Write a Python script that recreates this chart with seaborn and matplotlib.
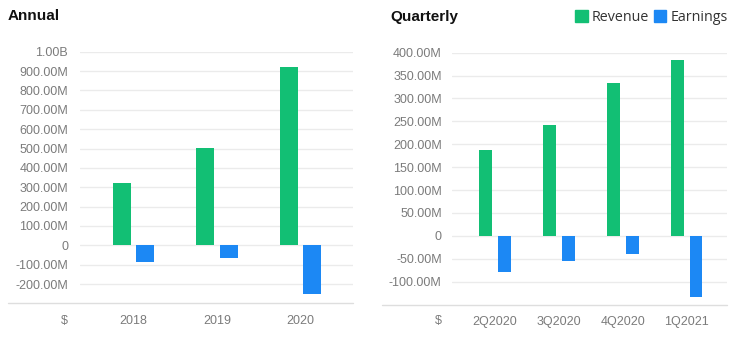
import matplotlib
matplotlib.use("Agg")
import matplotlib.pyplot as plt
import seaborn as sns
import pandas as pd
from matplotlib.lines import Line2D
from matplotlib.ticker import FuncFormatter, FixedLocator

# ---- data (values in millions of $) ----
annual_periods = ["2018", "2019", "2020"]
annual_revenue = [322, 505, 921]
annual_earnings = [-85, -67, -251]

quarter_periods = ["2Q2020", "3Q2020", "4Q2020", "1Q2021"]
quarter_revenue = [188, 241, 334, 385]
quarter_earnings = [-78, -56, -40, -134]

annual_ticks = [-200, -100, 0, 100, 200, 300, 400, 500, 600, 700, 800, 900, 1000]
quarter_ticks = [-100, -50, 0, 50, 100, 150, 200, 250, 300, 350, 400]

series_names = ["Revenue", "Earnings"]
colors = {"Revenue": "#12bf74", "Earnings": "#1c88f4"}

def long_df(periods, rev, earn):
    return pd.DataFrame({
        "period": periods * 2,
        "series": ["Revenue"] * len(periods) + ["Earnings"] * len(periods),
        "value": list(rev) + list(earn),
    })

df_a = long_df(annual_periods, annual_revenue, annual_earnings)
df_q = long_df(quarter_periods, quarter_revenue, quarter_earnings)

sns.set_theme(style="white")
plt.rcParams["font.family"] = ["Liberation Sans", "DejaVu Sans"]

W, H = 750, 343
fig = plt.figure(figsize=(W / 100, H / 100), dpi=100)

def fig_rect(x0, x1, ytop, ybot):
    return [x0 / W, 1 - ybot / H, (x1 - x0) / W, (ybot - ytop) / H]

ax1 = fig.add_axes(fig_rect(80, 353, 51.7, 303.4))
ax2 = fig.add_axes(fig_rect(451.7, 727, 52.7, 304.5))

def fmt(v, pos):
    if abs(v) < 1e-9:
        return "0"
    if abs(v) >= 1000:
        return f"{v/1000:.2f}B"
    return f"{v:.2f}M"

tick_color = "#7b7b7b"
grid_color = "#ebebeb"

def style(ax, df, width, gap, xlim, ylim, ticks, ypad):
    sns.barplot(data=df, x="period", y="value", hue="series",
                hue_order=series_names, palette=colors, ax=ax,
                width=width, gap=gap, saturation=1, errorbar=None,
                linewidth=0)
    ax.set_xlim(*xlim)
    ax.set_ylim(*ylim)
    ax.yaxis.set_major_locator(FixedLocator(ticks))
    ax.yaxis.set_major_formatter(FuncFormatter(fmt))
    ax.set_xlabel("")
    ax.set_ylabel("")
    for s in ax.spines.values():
        s.set_visible(False)
    ax.grid(axis="y", color=grid_color, linewidth=1)
    ax.grid(axis="x", visible=False)
    ax.set_axisbelow(True)
    ax.tick_params(axis="both", length=0, labelsize=9, labelcolor=tick_color)
    ax.tick_params(axis="y", pad=ypad)
    ax.tick_params(axis="x", pad=8)
    leg = ax.get_legend()
    if leg is not None:
        leg.remove()

style(ax1, df_a, 0.56, 0.23, (-0.64, 2.63), (-300, 1000), annual_ticks, 8.5)
style(ax2, df_q, 0.59, 0.34, (-0.68, 3.63), (-150, 400), quarter_ticks, 7.2)

# bottom baseline lines
for x0, x1, y in [(8, 353, 303.4), (381.7, 727, 304.5)]:
    fig.add_artist(Line2D([x0 / W, x1 / W], [1 - y / H, 1 - y / H],
                          color="#dedede", linewidth=1))

# currency markers
fig.text(68 / W, 1 - 321 / H, "$", ha="right", va="center",
         fontsize=9, color=tick_color)
fig.text(441.5 / W, 1 - 321 / H, "$", ha="right", va="center",
         fontsize=9, color=tick_color)

# titles
fig.text(8 / W, 1 - 16.5 / H, "Annual", ha="left", va="center",
         fontsize=11, fontweight="bold", color="#111111")
fig.text(390 / W, 1 - 16.5 / H, "Quarterly", ha="left", va="center",
         fontsize=11, fontweight="bold", color="#111111")

# legend
handles = [plt.Rectangle((0, 0), 1, 1, color=colors[s]) for s in series_names]
leg = fig.legend(handles, series_names, loc="center right",
                 bbox_to_anchor=(728 / W, 1 - 17.5 / H), ncol=2,
                 frameon=False, handlelength=0.85, handleheight=0.85,
                 handletextpad=0.3, columnspacing=0.35, borderpad=0,
                 borderaxespad=0,
                 prop={"family": ["Open Sans", "DejaVu Sans"], "size": 10.3})
for t in leg.get_texts():
    t.set_color("#333333")

fig.savefig("out.png", dpi=100)
